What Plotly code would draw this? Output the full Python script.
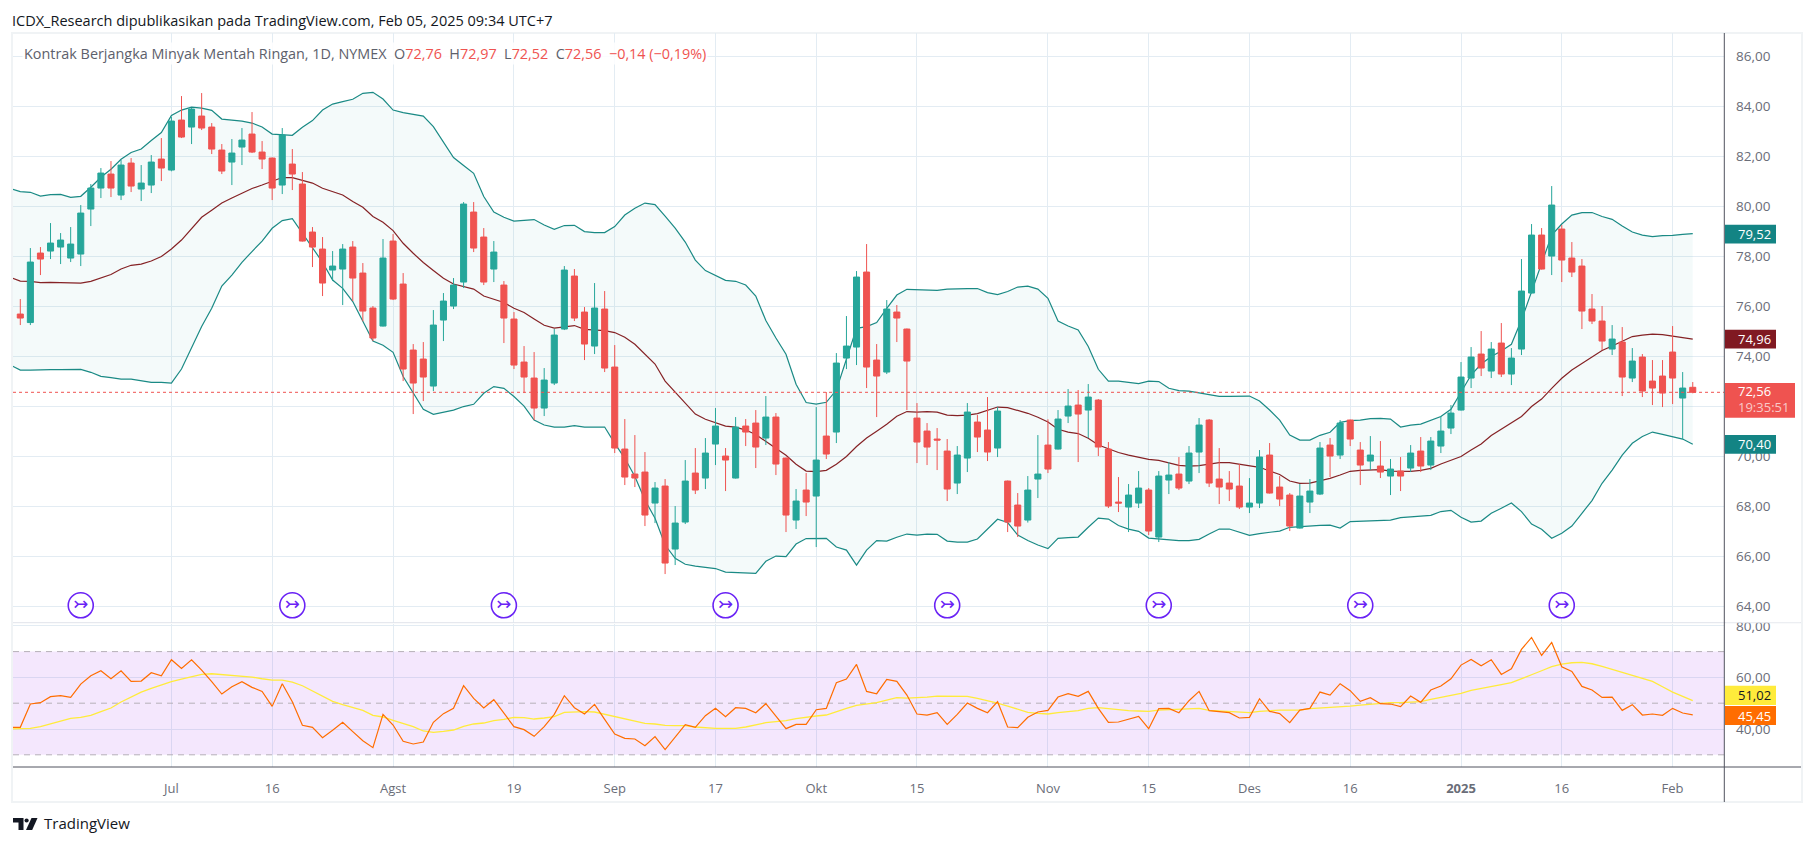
import plotly.graph_objects as go

W = 1814
H = 846

# bars are plotted by index, trading days only
opens = [75.69, 75.35, 78.13, 78.21, 78.37, 77.93, 78.09, 79.89, 80.73, 81.29,
         80.45, 81.73, 80.69, 80.85, 81.89, 81.45, 83.45, 83.17, 83.61, 83.17,
         82.25, 81.77, 82.37, 82.89, 82.17, 81.93, 80.85, 81.69, 80.89, 78.97,
         78.29, 77.45, 77.49, 78.37, 77.33, 75.93, 75.21, 78.61, 76.89, 74.25,
         73.89, 72.81, 75.45, 76.01, 76.97, 79.77, 78.77, 77.49, 76.85, 75.49,
         73.77, 73.13, 71.93, 72.93, 75.09, 77.21, 75.77, 74.41, 75.89, 73.57,
         70.29, 69.29, 69.37, 68.13, 68.81, 66.29, 67.37, 69.33, 69.13, 70.49,
         70.01, 69.13, 71.21, 71.33, 70.73, 71.57, 69.93, 67.45, 68.65, 68.41,
         70.81, 70.97, 73.93, 74.37, 77.37, 73.85, 73.37, 75.77, 75.09, 71.53,
         71.01, 70.69, 70.21, 68.93, 69.93, 71.37, 71.05, 70.33, 69.01, 68.05,
         67.45, 69.09, 70.45, 70.29, 71.61, 72.05, 71.85, 72.25, 70.29, 68.17,
         67.97, 68.13, 68.65, 66.77, 69.05, 69.29, 69.01, 70.17, 71.45, 69.09,
         68.93, 68.81, 67.97, 68.13, 70.05, 68.77, 68.45, 67.13, 68.17, 68.49,
         70.45, 70.05, 71.45, 70.25, 69.81, 69.61, 69.21, 69.41, 69.53, 70.21,
         69.65, 70.41, 71.13, 71.85, 73.13, 74.09, 73.41, 74.53, 73.29, 74.29,
         76.53, 78.85, 78.01, 79.09, 77.93, 77.61, 75.89, 75.41, 74.29, 74.57,
         73.13, 73.97, 73.01, 73.21, 74.17, 72.33, 72.76]
highs = [76.29, 78.33, 78.37, 79.33, 78.93, 79.17, 80.05, 80.89, 81.53, 81.81,
         81.85, 81.93, 81.65, 82.05, 82.73, 83.58, 84.41, 83.93, 84.53, 83.33,
         82.49, 82.69, 83.13, 83.77, 82.61, 81.95, 83.13, 82.29, 81.37, 79.17,
         78.77, 78.21, 78.49, 78.61, 77.73, 76.01, 78.69, 78.89, 77.33, 74.49,
         74.57, 75.85, 76.53, 77.13, 80.17, 80.17, 79.13, 78.61, 77.01, 75.77,
         74.41, 74.17, 73.53, 75.09, 77.61, 77.49, 75.97, 76.93, 76.61, 74.45,
         71.49, 70.85, 70.17, 68.97, 69.09, 68.01, 69.85, 70.33, 70.73, 71.93,
         70.33, 71.57, 71.49, 71.85, 72.41, 71.73, 69.95, 68.69, 69.33, 71.97,
         72.57, 74.13, 75.61, 77.41, 78.49, 74.49, 76.25, 76.05, 75.11, 72.13,
         71.33, 71.13, 70.69, 70.41, 72.13, 71.65, 72.37, 71.97, 69.03, 68.53,
         69.21, 70.85, 71.48, 71.85, 72.69, 72.65, 72.89, 72.29, 70.57, 69.17,
         68.89, 69.41, 68.73, 69.41, 69.77, 69.97, 70.41, 71.53, 71.49, 70.33,
         69.41, 69.69, 69.13, 70.25, 70.53, 69.21, 68.53, 68.89, 69.09, 70.57,
         70.73, 71.45, 71.47, 70.57, 70.81, 70.61, 69.89, 69.97, 70.45, 70.77,
         70.77, 71.61, 72.05, 73.77, 74.37, 75.01, 74.57, 75.33, 74.33, 77.89,
         79.29, 79.13, 80.81, 79.25, 78.57, 77.89, 76.49, 76.01, 75.25, 75.17,
         74.33, 74.09, 73.85, 73.85, 75.21, 73.37, 72.97]
lows = [75.25, 75.25, 77.25, 77.89, 77.69, 77.77, 77.61, 79.21, 80.33, 80.37,
        80.25, 80.57, 80.21, 80.53, 81.01, 81.40, 82.73, 82.49, 83.05, 82.09,
        81.29, 80.85, 81.65, 82.13, 81.49, 80.25, 80.49, 80.65, 78.59, 77.57,
        76.41, 77.01, 76.05, 76.21, 75.40, 74.61, 75.19, 76.25, 73.01, 71.69,
        72.21, 72.61, 74.61, 75.89, 76.73, 78.17, 76.85, 76.97, 74.53, 73.49,
        72.53, 71.45, 71.61, 72.85, 75.05, 75.41, 73.85, 74.09, 73.37, 70.13,
        68.85, 68.77, 67.21, 67.33, 65.29, 65.65, 67.29, 68.49, 68.69, 69.65,
        68.61, 69.11, 70.41, 69.53, 70.45, 69.25, 66.97, 67.09, 67.61, 66.37,
        69.89, 70.53, 73.49, 73.65, 72.73, 71.57, 73.29, 74.57, 71.85, 69.73,
        69.65, 69.45, 68.21, 68.49, 69.37, 70.17, 69.81, 69.97, 66.97, 66.77,
        67.35, 68.33, 69.33, 70.27, 71.33, 69.77, 70.73, 70.01, 67.93, 67.77,
        66.97, 67.93, 66.85, 66.57, 68.49, 68.65, 68.89, 69.33, 68.77, 68.09,
        68.21, 67.89, 67.73, 67.93, 68.51, 68.01, 67.01, 67.11, 67.73, 68.45,
        69.17, 69.89, 70.41, 68.85, 69.45, 69.13, 68.45, 68.61, 69.37, 69.37,
        69.45, 70.13, 70.89, 71.83, 72.73, 73.21, 73.13, 73.17, 72.85, 74.05,
        76.51, 77.47, 77.25, 76.97, 77.17, 75.09, 75.29, 74.25, 74.05, 72.41,
        72.97, 72.37, 72.05, 71.97, 72.09, 70.69, 72.52]
closes = [75.53, 77.77, 77.89, 78.53, 78.65, 78.49, 79.73, 80.73, 81.33, 80.73,
          81.65, 80.81, 80.93, 81.77, 81.53, 83.41, 82.77, 83.89, 83.13, 82.29,
          81.41, 82.13, 82.65, 82.17, 81.89, 80.73, 82.85, 81.29, 78.61, 78.37,
          76.93, 77.61, 78.29, 77.13, 75.81, 74.73, 77.93, 76.29, 73.49, 72.93,
          73.17, 75.25, 76.21, 76.85, 80.09, 78.33, 76.97, 78.17, 75.53, 73.65,
          73.17, 71.93, 73.05, 74.85, 77.45, 75.53, 74.49, 75.93, 73.53, 70.33,
          69.17, 69.13, 67.65, 68.73, 65.73, 67.33, 69.01, 68.65, 70.13, 71.21,
          69.85, 71.17, 70.97, 70.37, 71.57, 69.69, 67.65, 68.21, 68.17, 69.85,
          70.09, 73.73, 74.41, 77.17, 73.57, 73.21, 75.89, 75.53, 73.81, 70.57,
          70.37, 70.65, 68.69, 70.05, 71.77, 70.77, 70.17, 71.81, 67.37, 67.21,
          68.65, 69.29, 69.49, 71.49, 72.01, 71.69, 72.37, 70.37, 68.01, 68.13,
          68.45, 68.73, 67.01, 69.21, 69.25, 68.73, 70.13, 71.25, 68.93, 68.77,
          68.69, 67.97, 68.13, 69.97, 68.53, 68.29, 67.21, 68.41, 68.61, 70.33,
          70.01, 71.33, 70.69, 69.65, 70.05, 69.37, 69.49, 69.21, 70.13, 69.61,
          70.61, 71.01, 71.73, 73.17, 73.97, 73.53, 74.29, 73.29, 73.93, 76.61,
          78.85, 77.49, 80.05, 77.85, 77.37, 75.81, 75.41, 74.61, 74.69, 73.17,
          73.81, 72.61, 72.73, 72.53, 73.13, 72.73, 72.56]

# bollinger bands start one bar before the first candle (cut by the pane edge)
bb_upper = [80.71,
            80.59, 80.56, 80.41, 80.47, 80.48, 80.36, 80.40, 80.76, 81.16, 81.48,
            81.88, 82.15, 82.29, 82.63, 82.95, 83.63, 83.85, 83.97, 83.93, 83.84,
            83.49, 83.45, 83.41, 83.33, 83.17, 82.89, 82.87, 82.84, 83.16, 83.43,
            83.85, 84.09, 84.19, 84.28, 84.52, 84.56, 84.29, 83.85, 83.75, 83.69,
            83.61, 83.19, 82.55, 81.95, 81.63, 81.32, 80.39, 79.77, 79.56, 79.41,
            79.44, 79.47, 79.25, 79.08, 79.23, 79.24, 78.99, 78.95, 78.95, 79.19,
            79.65, 79.92, 80.13, 80.07, 79.61, 79.13, 78.57, 77.85, 77.43, 77.25,
            77.04, 77.00, 76.85, 76.41, 75.43, 74.73, 74.08, 72.88, 72.15, 72.09,
            72.16, 72.65, 73.85, 75.12, 75.19, 75.35, 75.92, 76.45, 76.68, 76.67,
            76.65, 76.64, 76.69, 76.71, 76.71, 76.71, 76.55, 76.47, 76.59, 76.77,
            76.81, 76.69, 76.32, 75.41, 75.21, 75.05, 74.39, 73.48, 73.01, 73.01,
            72.97, 72.91, 73.01, 72.99, 72.72, 72.63, 72.61, 72.55, 72.48, 72.40,
            72.40, 72.41, 72.41, 72.21, 71.85, 71.45, 70.85, 70.65, 70.65, 70.84,
            70.96, 71.36, 71.43, 71.45, 71.51, 71.52, 71.49, 71.17, 71.25, 71.29,
            71.43, 71.59, 71.88, 72.59, 73.25, 73.69, 73.99, 74.21, 74.48, 75.45,
            76.59, 77.72, 78.85, 79.29, 79.65, 79.75, 79.75, 79.59, 79.48, 79.21,
            78.97, 78.85, 78.79, 78.83, 78.84, 78.88, 78.91]
bb_basis = [77.16,
            77.01, 77.00, 76.95, 76.96, 76.96, 76.93, 76.93, 77.00, 77.12, 77.27,
            77.49, 77.64, 77.69, 77.81, 77.99, 78.29, 78.65, 79.12, 79.56, 79.84,
            80.13, 80.33, 80.53, 80.71, 80.85, 81.01, 81.15, 81.15, 81.05, 80.93,
            80.72, 80.57, 80.45, 80.19, 79.96, 79.59, 79.36, 79.03, 78.52, 78.12,
            77.75, 77.43, 77.12, 76.89, 76.80, 76.69, 76.41, 76.28, 76.15, 75.92,
            75.75, 75.49, 75.24, 75.13, 75.19, 75.23, 75.08, 75.05, 75.03, 74.95,
            74.76, 74.48, 74.08, 73.69, 73.01, 72.56, 72.12, 71.69, 71.48, 71.36,
            71.21, 71.17, 71.05, 70.87, 70.59, 70.32, 70.04, 69.68, 69.41, 69.39,
            69.44, 69.68, 69.99, 70.39, 70.73, 71.00, 71.28, 71.60, 71.79, 71.77,
            71.79, 71.77, 71.65, 71.63, 71.65, 71.71, 71.83, 71.97, 71.95, 71.83,
            71.72, 71.56, 71.37, 71.08, 70.97, 70.91, 70.72, 70.45, 70.29, 70.15,
            70.05, 69.96, 69.88, 69.84, 69.73, 69.64, 69.61, 69.63, 69.69, 69.75,
            69.75, 69.69, 69.63, 69.56, 69.41, 69.27, 69.01, 68.92, 68.93, 69.01,
            69.12, 69.25, 69.40, 69.44, 69.45, 69.47, 69.41, 69.40, 69.40, 69.44,
            69.52, 69.69, 69.85, 69.99, 70.25, 70.49, 70.83, 71.08, 71.32, 71.59,
            71.99, 72.29, 72.72, 73.12, 73.45, 73.72, 73.96, 74.23, 74.41, 74.59,
            74.79, 74.85, 74.89, 74.87, 74.81, 74.75, 74.69]
bb_lower = [73.65,
            73.45, 73.45, 73.47, 73.47, 73.47, 73.48, 73.48, 73.36, 73.20, 73.15,
            73.09, 73.09, 73.04, 72.96, 72.96, 72.93, 73.49, 74.35, 75.19, 75.92,
            76.81, 77.25, 77.76, 78.19, 78.61, 79.12, 79.43, 79.51, 78.92, 78.36,
            77.76, 77.05, 76.72, 76.19, 75.39, 74.61, 74.44, 74.16, 73.19, 72.52,
            71.88, 71.68, 71.76, 71.85, 71.99, 72.08, 72.52, 72.79, 72.72, 72.39,
            72.01, 71.45, 71.25, 71.17, 71.17, 71.23, 71.17, 71.17, 71.17, 70.52,
            69.92, 69.19, 68.25, 67.52, 66.45, 65.92, 65.68, 65.61, 65.55, 65.51,
            65.37, 65.35, 65.32, 65.32, 65.80, 66.01, 65.99, 66.49, 66.71, 66.71,
            66.72, 66.37, 66.25, 65.65, 66.25, 66.63, 66.61, 66.76, 66.89, 66.85,
            66.89, 66.88, 66.61, 66.57, 66.57, 66.69, 67.08, 67.48, 67.35, 66.85,
            66.63, 66.45, 66.31, 66.72, 66.75, 66.77, 67.16, 67.53, 67.49, 67.23,
            67.09, 67.00, 66.73, 66.69, 66.68, 66.63, 66.63, 66.68, 66.89, 67.09,
            67.09, 66.95, 66.84, 66.91, 66.96, 67.01, 67.16, 67.19, 67.23, 67.24,
            67.25, 67.13, 67.39, 67.40, 67.41, 67.44, 67.45, 67.55, 67.57, 67.61,
            67.64, 67.79, 67.84, 67.56, 67.37, 67.41, 67.72, 67.92, 68.13, 67.79,
            67.29, 67.08, 66.72, 66.92, 67.21, 67.72, 68.23, 68.92, 69.45, 70.05,
            70.52, 70.79, 70.97, 70.88, 70.80, 70.69, 70.48]

rsi = [40.65,
       40.65, 49.68, 50.19, 52.52, 52.90, 52.26, 57.42, 60.65, 62.58, 59.48,
       62.58, 58.45, 58.58, 61.81, 60.65, 66.84, 63.48, 66.84, 62.84, 58.32,
       53.55, 56.39, 58.32, 56.13, 54.58, 48.77, 57.55, 50.58, 41.42, 40.65,
       36.65, 39.48, 42.58, 38.97, 35.48, 32.77, 45.68, 41.55, 35.23, 34.19,
       34.97, 42.58, 45.94, 48.00, 56.77, 51.87, 48.13, 51.35, 46.00, 40.90,
       39.74, 37.16, 40.90, 45.68, 52.90, 48.26, 45.81, 49.55, 43.74, 38.06,
       36.39, 36.13, 33.55, 37.03, 32.00, 36.77, 41.68, 40.65, 45.16, 48.00,
       44.77, 48.26, 48.00, 46.32, 49.81, 45.03, 40.13, 41.81, 41.81, 47.48,
       48.00, 57.94, 59.35, 65.03, 54.58, 53.68, 59.23, 58.45, 53.16, 45.81,
       45.42, 46.32, 41.81, 45.68, 50.06, 48.00, 46.32, 50.58, 40.77, 40.52,
       44.52, 46.58, 47.23, 52.39, 53.68, 52.65, 54.58, 48.00, 42.58, 42.71,
       43.87, 44.90, 40.13, 47.87, 48.00, 46.32, 50.97, 54.58, 47.10, 46.58,
       46.32, 44.26, 44.52, 51.74, 46.84, 45.94, 42.45, 47.35, 48.00, 54.32,
       53.16, 57.55, 54.84, 50.71, 52.13, 49.81, 49.68, 48.65, 52.77, 50.32,
       55.10, 56.65, 59.48, 64.77, 66.97, 64.52, 66.84, 61.16, 63.35, 70.84,
       75.48, 68.52, 73.55, 64.13, 62.32, 56.52, 55.10, 52.26, 52.39, 47.23,
       49.42, 45.42, 45.81, 45.29, 48.00, 46.19, 45.45]
rsi_ma = [40.00,
          40.00, 40.26, 40.90, 41.94, 43.23, 44.13, 44.52, 45.29, 46.71, 48.13,
          50.45, 52.52, 54.32, 55.74, 57.16, 58.32, 59.35, 60.39, 61.16, 61.42,
          61.16, 60.77, 60.52, 60.13, 59.48, 58.97, 58.97, 58.19, 56.77, 54.71,
          52.77, 50.71, 49.42, 48.26, 47.23, 45.29, 44.65, 43.35, 42.06, 40.90,
          39.23, 38.71, 39.10, 39.61, 41.03, 41.94, 42.32, 43.23, 43.74, 44.52,
          44.39, 43.87, 44.26, 44.77, 46.45, 46.71, 46.71, 46.58, 45.68, 44.90,
          44.13, 43.10, 42.19, 41.94, 41.42, 41.29, 41.29, 40.77, 40.39, 40.26,
          40.26, 40.26, 40.77, 41.55, 42.45, 42.84, 43.23, 44.00, 44.65, 45.03,
          45.42, 46.84, 48.00, 49.16, 49.81, 50.19, 51.23, 52.13, 52.00, 52.13,
          52.39, 52.77, 52.65, 52.65, 52.65, 51.87, 51.10, 50.06, 48.90, 47.74,
          46.45, 46.06, 45.81, 46.32, 46.71, 47.10, 48.00, 48.26, 47.87, 47.35,
          47.10, 46.97, 46.84, 47.35, 47.48, 47.61, 47.87, 48.00, 47.23, 46.97,
          46.58, 46.32, 46.32, 46.84, 47.23, 47.35, 47.35, 47.35, 47.87, 48.13,
          48.26, 48.39, 48.90, 49.29, 49.68, 49.94, 50.19, 50.19, 50.32, 50.58,
          51.48, 52.26, 53.03, 53.81, 54.97, 55.61, 56.39, 57.16, 57.94, 59.61,
          61.03, 62.58, 64.13, 65.16, 65.68, 65.81, 65.29, 64.26, 63.10, 61.94,
          60.77, 59.48, 58.45, 56.39, 54.32, 52.65, 51.02]

assert len(opens) == len(highs) == len(lows) == len(closes) == 167
assert len(bb_upper) == len(bb_basis) == len(bb_lower) == len(rsi) == len(rsi_ma) == 168

bar_index = list(range(167))
line_index = list(range(-1, 167))

tick_index = [15, 25, 37, 49, 59, 69, 79, 89, 102, 112, 122, 132, 143, 153, 164]
tick_labels = ["Jul", "16", "Agst", "19", "Sep", "17", "Okt", "15", "Nov", "15", "Des", "16",
               "<b>2025</b>", "16", "Feb"]
price_ticks = [64, 66, 68, 70, 72, 74, 76, 78, 80, 82, 84, 86]
rsi_ticks = [40, 60, 80]

event_index = [6, 27, 48, 70, 92, 113, 133, 153]
event_price = [64.04] * 8

last_price = 72.56
rsi_bands = [30, 50, 70]

GREEN = "#26a69a"
RED = "#ef5350"
GRID = "#e3ecf3"
AXIS = "#50535e"
TICK_TEXT = "#6a6d78"
FONT = "Open Sans"


# pixel position to paper coordinates
def px(x):
    return x / W


def py(y):
    return 1 - y / H


fig = go.Figure()

fig.add_trace(go.Scatter(x=line_index, y=bb_lower, mode="lines", line=dict(color="#1a8a85", width=1.2), yaxis="y"))
fig.add_trace(go.Scatter(x=line_index, y=bb_upper, mode="lines", line=dict(color="#1a8a85", width=1.2),
                         fill="tonexty", fillcolor="rgba(38,166,154,0.05)", yaxis="y"))
fig.add_trace(go.Scatter(x=line_index, y=bb_basis, mode="lines", line=dict(color="#852225", width=1.2), yaxis="y"))
fig.add_trace(go.Scatter(x=event_index, y=event_price, mode="markers+text", text=["↣"] * 8,
                         textposition="middle center",
                         textfont=dict(family="DejaVu Sans", size=18, color="#6a23f5"),
                         marker=dict(size=25, color="white", line=dict(color="#6a23f5", width=1.6)),
                         yaxis="y"))

# candles go on an overlay axis so the band lines stay behind them
fig.add_trace(go.Candlestick(
    x=bar_index, open=opens, high=highs, low=lows, close=closes,
    increasing=dict(line=dict(color=GREEN, width=1), fillcolor=GREEN),
    decreasing=dict(line=dict(color=RED, width=1), fillcolor=RED),
    whiskerwidth=0, xaxis="x", yaxis="y3"
))

fig.add_trace(go.Scatter(x=line_index, y=rsi_ma, mode="lines", line=dict(color="#ffeb3b", width=1.3),
                         xaxis="x2", yaxis="y2"))
fig.add_trace(go.Scatter(x=line_index, y=rsi, mode="lines", line=dict(color="#ff6d00", width=1.2),
                         xaxis="x2", yaxis="y2"))

x_range = [(13 - 20.3) / 10.075, (1724.3 - 20.3) / 10.075]
price_range = [80 - (622.7 - 206.3) / 25, 80 + (206.3 - 33) / 25]
rsi_range = [60 - (767 - 677.4) / 2.58, 60 + (677.4 - 624) / 2.58]

shapes = [
    # outer frame
    dict(type="rect", xref="paper", yref="paper", x0=px(12), x1=px(1802), y0=py(33), y1=py(802),
         line=dict(color="#f0f3f5", width=2), layer="below"),
    # rsi background and level lines
    dict(type="rect", xref="x2", yref="y2", x0=x_range[0], x1=x_range[1], y0=30, y1=70,
         fillcolor="rgba(145,15,235,0.1)", line=dict(width=0), layer="between"),
    # last price line
    dict(type="line", xref="x", yref="y", x0=x_range[0], x1=x_range[1], y0=last_price, y1=last_price,
         line=dict(color=RED, width=1, dash="dot"), layer="above"),
    # pane separator, time axis line, price axis line
    dict(type="line", xref="paper", yref="paper", x0=px(13), x1=px(1801), y0=py(622.7), y1=py(622.7),
         line=dict(color="#e0e3eb", width=1)),
    dict(type="line", xref="paper", yref="paper", x0=px(13), x1=px(1801), y0=py(767), y1=py(767),
         line=dict(color=AXIS, width=1)),
    dict(type="line", xref="paper", yref="paper", x0=px(1724.3), x1=px(1724.3), y0=py(33), y1=py(802),
         line=dict(color=AXIS, width=1)),
    # covers the top of the clipped 80,00 label
    dict(type="rect", xref="paper", yref="paper", x0=px(1726), x1=px(1800), y0=py(614), y1=py(622.2),
         fillcolor="white", line=dict(width=0)),
]
for level in rsi_bands:
    shapes.append(dict(type="line", xref="x2", yref="y2", x0=x_range[0], x1=x_range[1], y0=level, y1=level,
                       line=dict(color="#b5b0b8", width=1, dash="6px,5px"), layer="between"))

# value boxes on the price axis: (top, bottom, right edge, colour)
label_boxes = [
    (224.8, 243.5, 1776, "#138484"),
    (329.8, 348.5, 1776, "#801922"),
    (383, 417.7, 1795, RED),
    (435, 453.7, 1776, "#138484"),
    (685.7, 705, 1776, "#ffeb3b"),
    (706, 725, 1776, "#ff6d00"),
]
for top, bottom, right, colour in label_boxes:
    shapes.append(dict(type="rect", xref="paper", yref="paper", x0=px(1725), x1=px(right), y0=py(bottom), y1=py(top),
                       fillcolor=colour, line=dict(width=0)))

# TradingView logo
logo = "#131722"
shapes.append(dict(type="path", xref="paper", yref="paper", fillcolor=logo, line=dict(width=0),
                   path=f"M {px(13)} {py(818)} L {px(23.5)} {py(818)} L {px(23.5)} {py(830)} L {px(18.5)} {py(830)} "
                        f"L {px(18.5)} {py(822.5)} L {px(13)} {py(822.5)} Z"))
shapes.append(dict(type="circle", xref="paper", yref="paper", fillcolor=logo, line=dict(width=0),
                   x0=px(24.5), x1=px(28.7), y0=py(822.6), y1=py(818.4)))
shapes.append(dict(type="path", xref="paper", yref="paper", fillcolor=logo, line=dict(width=0),
                   path=f"M {px(31.5)} {py(818)} L {px(37.5)} {py(818)} L {px(32.2)} {py(830)} L {px(26)} {py(830)} Z"))


def label(x, y, text, color, size=13, anchor="left", **kw):
    return dict(xref="paper", yref="paper", x=px(x), y=py(y), text=text, showarrow=False, xanchor=anchor,
                yanchor="middle", font=dict(family=FONT, size=size, color=color), **kw)


gray = "#5d606b"
legend = (f'<span style="color:{gray}">Kontrak Berjangka Minyak Mentah Ringan, 1D, NYMEX  O</span>72,76'
          f'<span style="color:{gray}">  H</span>72,97<span style="color:{gray}">  L</span>72,52'
          f'<span style="color:{gray}">  C</span>72,56  −0,14 (−0,19%)')

annotations = [
    label(10, 20, "ICDX_Research dipublikasikan pada TradingView.com, Feb 05, 2025 09:34 UTC+7", "#131722", size=14.5),
    label(22, 53.5, legend, RED, size=14.4, bgcolor="rgba(255,255,255,0.85)"),
    label(42, 823, "TradingView", "#131722", size=15),
    label(1736, 234, "79,52", "white"),
    label(1736, 339, "74,96", "white"),
    label(1736, 391, "72,56", "white"),
    label(1736, 407, "19:35:51", "#f9c9c8"),
    label(1736, 444, "70,40", "white"),
    label(1736, 695.3, "51,02", "#131722"),
    label(1736, 715.5, "45,45", "white"),
]

grid_axis = dict(showgrid=True, gridcolor=GRID, gridwidth=1, zeroline=False, showline=False)

fig.update_layout(
    width=W, height=H, margin=dict(l=0, r=0, t=0, b=0, autoexpand=False),
    paper_bgcolor="white", plot_bgcolor="white", showlegend=False, hovermode=False,
    separators=",.", boxgap=0.4, boxgroupgap=0,
    font=dict(family=FONT, size=13, color=TICK_TEXT),
    shapes=shapes, annotations=annotations,
    xaxis=dict(domain=[px(13), px(1724.3)], range=x_range, anchor="y", tickvals=tick_index,
               showticklabels=False, rangeslider=dict(visible=False), **grid_axis),
    xaxis2=dict(domain=[px(13), px(1724.3)], range=x_range, anchor="y2", matches="x", tickvals=tick_index,
                ticktext=tick_labels, ticks="outside", ticklen=9, tickcolor="rgba(0,0,0,0)",
                tickfont=dict(color=TICK_TEXT, size=13), **grid_axis),
    yaxis=dict(domain=[py(622.7), py(33)], range=price_range, side="right", anchor="x", tickvals=price_ticks,
               tickformat=".2f", ticks="outside", ticklen=8, tickcolor="rgba(0,0,0,0)",
               tickfont=dict(size=13.5), **grid_axis),
    yaxis2=dict(domain=[py(767), py(624)], range=rsi_range, side="right", anchor="x2", tickvals=rsi_ticks,
                tickformat=".2f", ticks="outside", ticklen=8, tickcolor="rgba(0,0,0,0)",
                tickfont=dict(size=13.5), **grid_axis),
    yaxis3=dict(domain=[py(622.7), py(33)], range=price_range, overlaying="y", anchor="x", side="right",
                visible=False),
)

fig.write_html("out.html", config={"displayModeBar": False}, post_script="document.body.style.margin='0';")
